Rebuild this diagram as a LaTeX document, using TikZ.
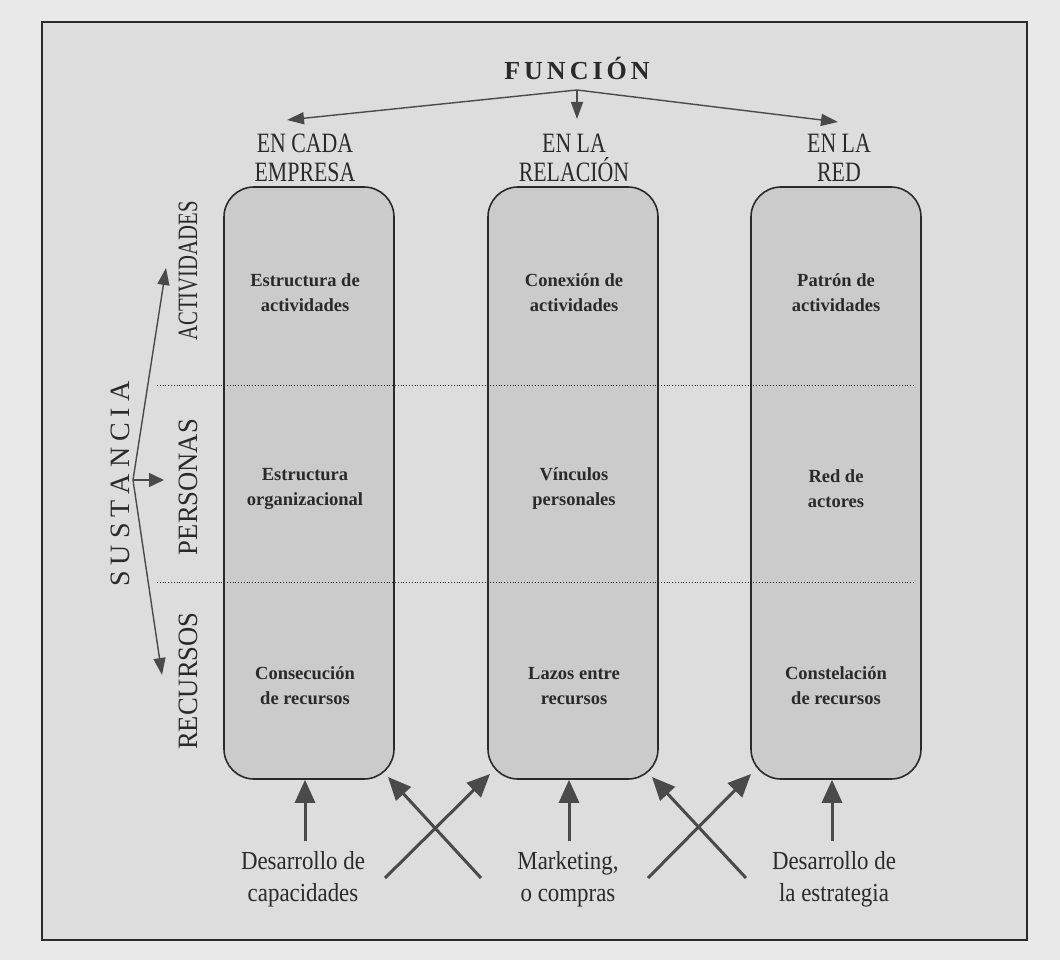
\documentclass[tikz,border=0pt]{standalone}
\usepackage{fontspec}
\setmainfont{Liberation Serif}
\newfontfamily\condfont[FakeStretch=0.78]{Liberation Serif}
\newfontfamily\tightfont[FakeStretch=0.74]{Liberation Serif}
\newfontfamily\widefont[FakeStretch=0.95]{Liberation Serif}
\newfontfamily\midfont[FakeStretch=0.88]{Liberation Serif}
\usetikzlibrary{arrows.meta}
\definecolor{pagebg}{HTML}{E9E9E9}
\definecolor{framebg}{HTML}{DDDDDD}
\definecolor{boxfill}{HTML}{CBCBCB}
\definecolor{ink}{HTML}{2A2A2A}
\definecolor{arrowink}{HTML}{4A4A4A}
\tikzset{
  colbox/.style={draw=ink, line width=1.6pt, fill=boxfill, rounded corners=30pt,
    minimum width=170pt, minimum height=592pt, inner sep=0pt},
  cellText/.style={font=\bfseries\fontsize{18.5}{25}\selectfont, text=ink, align=center},
  headText/.style={font=\condfont\fontsize{28}{29}\selectfont, text=ink, align=center},
  sideText/.style={font=\fontsize{28}{29}\selectfont, text=ink, rotate=90},
  footText/.style={font=\midfont\fontsize{26}{32}\selectfont, text=ink, align=center},
  thinarrow/.style={draw=arrowink, line width=1.4pt, -{Triangle[length=17pt,width=12pt]}},
  stubarrow/.style={draw=arrowink, line width=1.4pt, -{Triangle[length=15pt,width=14pt]}},
  bigarrow/.style={draw=arrowink, line width=3pt, -{Triangle[length=23pt,width=20pt]}},
  sepline/.style={draw=ink, line width=0.8pt, dotted},
}
\newcommand{\spread}[2]{\def\gap{#1}\spreadloop#2\relax}
\def\spreadloop#1#2\relax{#1\ifx\relax#2\relax\else\kern\gap\spreadloop#2\relax\fi}
\begin{document}
\begin{tikzpicture}[x=1pt,y=-1pt]
\useasboundingbox (0,0) rectangle (1060,960);
\fill[pagebg] (0,0) rectangle (1060,960);
\draw[ink, line width=1.4pt, fill=framebg] (42,22) rectangle (1027,940);

% columns
\node[colbox] (c1) at (309,483) {};
\node[colbox] (c2) at (573,483) {};
\node[colbox] (c3) at (836,483) {};

% layer separators
\coordinate (s1a) at (157,385); \coordinate (s1b) at (914,385);
\coordinate (s2a) at (157,582); \coordinate (s2b) at (914,582);
\draw[sepline] (s1a) -- (s1b);
\draw[sepline] (s2a) -- (s2b);

% function heading
\node[font=\bfseries\fontsize{26}{28}\selectfont, text=ink] (fun) at (577,68)
  {\spread{4pt}{FUNCIÓN}};
\coordinate (fsplit) at (577,90);
\coordinate (f1) at (287,120);
\coordinate (f2) at (577,119);
\coordinate (f3) at (838,122);
\draw[thinarrow] (fsplit) -- (f1);
\draw[thinarrow] (fsplit) -- (f2);
\draw[thinarrow] (fsplit) -- (f3);

\node[headText] (h1) at (305,158) {EN CADA\\EMPRESA};
\node[headText] (h2) at (574,158) {EN LA\\RELACIÓN};
\node[headText] (h3) at (839,158) {EN LA\\RED};

% cell contents
\node[cellText] (a1) at (305,293) {Estructura de\\actividades};
\node[cellText] (p1) at (305,489) {Estructura\\organizacional};
\node[cellText] (r1) at (305,686) {Consecución\\de recursos};
\node[cellText] (a2) at (574,293) {Conexión de\\actividades};
\node[cellText] (p2) at (574,489) {Vínculos\\personales};
\node[cellText] (r2) at (574,686) {Lazos entre\\recursos};
\node[cellText] (a3) at (836,293) {Patrón de\\actividades};
\node[cellText] (p3) at (836,489) {Red de\\actores};
\node[cellText] (r3) at (836,686) {Constelación\\de recursos};

% substance axis
\node[sideText, font=\tightfont\fontsize{28}{29}\selectfont] (lact) at (188,271) {ACTIVIDADES};
\node[sideText, font=\widefont\fontsize{28}{29}\selectfont] (lper) at (188,487) {PERSONAS};
\node[sideText, font=\widefont\fontsize{28}{29}\selectfont] (lrec) at (188,681) {RECURSOS};
\node[font=\fontsize{28}{30}\selectfont, text=ink, rotate=90] (sus) at (120,484)
  {\spread{6pt}{SUSTANCIA}};
\coordinate (s0) at (133,480);
\coordinate (sup1) at (166,268);
\coordinate (smid) at (164,480);
\coordinate (sdn) at (162,675);
\draw[thinarrow] (s0) -- (sup1);
\draw[stubarrow] (s0) -- (smid);
\draw[thinarrow] (s0) -- (sdn);

% drivers below
\node[footText] (d1) at (303,879) {Desarrollo de\\capacidades};
\node[footText] (d2) at (568,879) {Marketing,\\o compras};
\node[footText] (d3) at (834,879) {Desarrollo de\\la estrategia};
\coordinate (b1) at (305,841);
\coordinate (b2) at (569,841);
\coordinate (b3) at (832,841);
\draw[bigarrow] (b1) -- (b1 |- c1.south);
\draw[bigarrow] (b2) -- (b2 |- c2.south);
\draw[bigarrow] (b3) -- (b3 |- c3.south);

\coordinate (x1a) at (385,878); \coordinate (x1b) at (490,774);
\coordinate (x2a) at (481,878); \coordinate (x2b) at (388,777);
\coordinate (x3a) at (648,878); \coordinate (x3b) at (751,774);
\coordinate (x4a) at (746,878); \coordinate (x4b) at (652,777);
\draw[bigarrow] (x1a) -- (x1b);
\draw[bigarrow] (x2a) -- (x2b);
\draw[bigarrow] (x3a) -- (x3b);
\draw[bigarrow] (x4a) -- (x4b);
\end{tikzpicture}
\end{document}
